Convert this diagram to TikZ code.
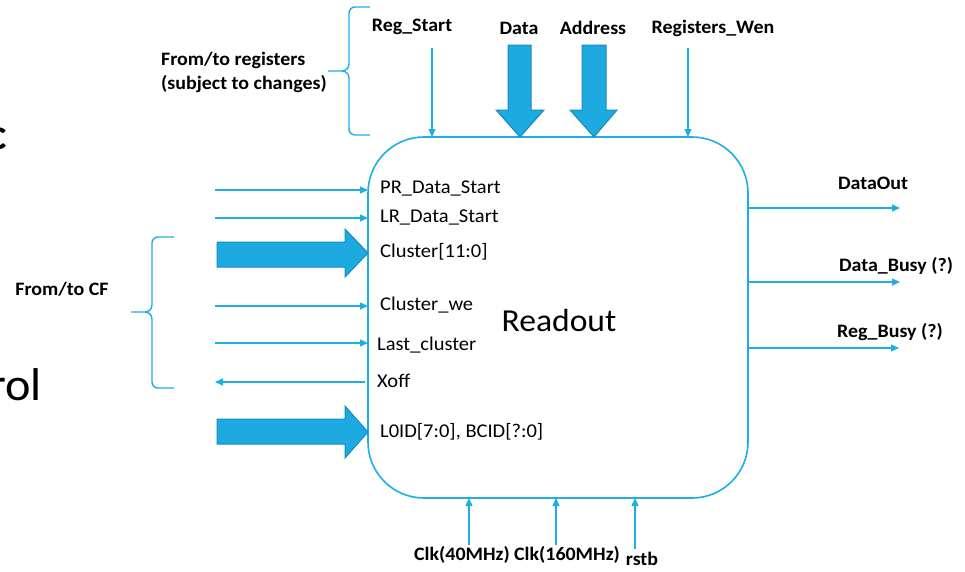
\documentclass[tikz,border=0pt]{standalone}
\usepackage{fontspec}
\setmainfont{Carlito}[FakeStretch=1.05]
\usetikzlibrary{arrows.meta}
\definecolor{ln}{RGB}{30,174,226}
\definecolor{bf}{RGB}{29,170,224}
\definecolor{bd}{RGB}{24,140,190}
\tikzset{
  sig/.style={draw=ln, line width=1.4pt, -{Triangle[length=8pt,width=7pt]}},
  blk/.style={fill=bf, draw=bd, line width=1pt},
  brc/.style={draw=ln, line width=1.4pt},
  toplab/.style={font=\fontsize{19}{21}\selectfont\bfseries, inner sep=0pt},
  inlab/.style={font=\fontsize{19.5}{22}\selectfont, inner sep=0pt, anchor=west},
  grp/.style={font=\fontsize{19}{24}\selectfont\bfseries, inner sep=0pt, align=left}
}
\begin{document}
\begin{tikzpicture}[x=1pt,y=-1pt]
\useasboundingbox (0,0) rectangle (965,571);
% cut-off slide text at left edge
\begin{scope}
\clip (0,0) rectangle (965,571);
\node[font=\fontsize{44}{48}\selectfont\bfseries, inner sep=0pt, anchor=base east] (cfrag) at (7,149) {c};
\node[font=\fontsize{46}{50}\selectfont, inner sep=0pt, anchor=base east] (rolfrag) at (42,400) {rol};
\end{scope}
% main box
\node[draw=ln, line width=1.6pt, rounded corners=56pt, minimum width=380pt, minimum height=361pt, inner sep=0pt] (box) at (558,317.5) {};
\node[font=\fontsize{32}{36}\selectfont, inner sep=0pt] (ro) at (559,320) {Readout};
% top labels
\node[toplab] (regstart) at (412,27) {Reg\_Start};
\node[toplab] (data) at (519,28) {Data};
\node[toplab] (addr) at (593,28) {Address};
\node[toplab] (regwen) at (713,28) {Registers\_Wen};
\coordinate (rs0) at (432,48); \coordinate (rs1) at (432,137);
\coordinate (rw0) at (688,48); \coordinate (rw1) at (688,137);
\draw[sig] (rs0) -- (rs1);
\draw[sig] (rw0) -- (rw1);
\draw[blk] (508,45) -- (531,45) -- (531,110) -- (544,110) -- (520,137) -- (496,110) -- (508,110) -- cycle;
\draw[blk] (582,45) -- (606,45) -- (606,110) -- (617,110) -- (594,137) -- (570,110) -- (582,110) -- cycle;
% top brace
\node[grp, anchor=west] (regs) at (161,72) {From/to registers\\(subject to changes)};
\draw[brc] (370,7) -- (355,7) to[out=180,in=90] (349,13) -- (349,64) to[out=-90,in=0] (342,71) -- (328,71);
\draw[brc] (342,71) to[out=0,in=90] (349,78) -- (349,129) to[out=-90,in=180] (355,135) -- (370,135);
% left brace
\node[grp] (cf) at (62,289) {From/to CF};
\draw[brc] (174,237) -- (158,237) to[out=180,in=90] (152,243) -- (152,305) to[out=-90,in=0] (145,312) -- (131,312);
\draw[brc] (145,312) to[out=0,in=90] (152,319) -- (152,382) to[out=-90,in=180] (158,388) -- (174,388);
% left signals
\node[inlab] (pr) at (380,188) {PR\_Data\_Start};
\node[inlab] (lr) at (380,217) {LR\_Data\_Start};
\node[inlab] (cl) at (380,252) {Cluster[11:0]};
\node[inlab] (clwe) at (380,305) {Cluster\_we};
\node[inlab] (last) at (377,345) {Last\_cluster};
\node[inlab] (xoff) at (377,381) {Xoff};
\node[inlab] (l0id) at (380,432) {L0ID[7:0], BCID[?:0]};
\coordinate (pr0) at (215,190); \coordinate (pr1) at (368,190);
\coordinate (lr0) at (215,218); \coordinate (lr1) at (368,218);
\coordinate (we0) at (215,306); \coordinate (we1) at (368,306);
\coordinate (lc0) at (215,343); \coordinate (lc1) at (368,343);
\coordinate (xo0) at (365,382); \coordinate (xo1) at (215,382);
\draw[sig] (pr0) -- (pr1);
\draw[sig] (lr0) -- (lr1);
\draw[sig] (we0) -- (we1);
\draw[sig] (lc0) -- (lc1);
\draw[sig] (xo0) -- (xo1);
\draw[blk] (217,242) -- (345,242) -- (345,229) -- (368,253) -- (345,277) -- (345,267) -- (217,267) -- cycle;
\draw[blk] (217,419) -- (345,419) -- (345,406) -- (368,432) -- (345,458) -- (345,444) -- (217,444) -- cycle;
% right outputs
\node[toplab] (dout) at (873,183) {DataOut};
\node[toplab] (dbusy) at (896,266) {Data\_Busy (?)};
\node[toplab] (rbusy) at (890,332) {Reg\_Busy (?)};
\coordinate (do0) at (748,208); \coordinate (do1) at (900,208);
\coordinate (db0) at (748,282); \coordinate (db1) at (900,282);
\coordinate (rb0) at (748,348); \coordinate (rb1) at (899,348);
\draw[sig] (do0) -- (do1);
\draw[sig] (db0) -- (db1);
\draw[sig] (rb0) -- (rb1);
% bottom inputs
\node[toplab] (clk40) at (462,555) {Clk(40MHz)};
\node[toplab] (clk160) at (567,555) {Clk(160MHz)};
\node[toplab] (rstb) at (642,559) {rstb};
\coordinate (c40a) at (469,545); \coordinate (c40b) at (469,498);
\coordinate (c160a) at (556,545); \coordinate (c160b) at (556,498);
\coordinate (rsa) at (635,549); \coordinate (rsb) at (635,498);
\draw[sig] (c40a) -- (c40b);
\draw[sig] (c160a) -- (c160b);
\draw[sig] (rsa) -- (rsb);
\end{tikzpicture}
\end{document}
